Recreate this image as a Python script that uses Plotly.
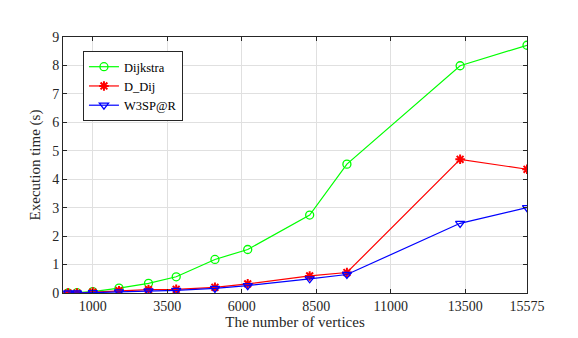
import plotly.graph_objects as go

vertices = [170, 470, 1000, 1880, 2870, 3800, 5100, 6200, 8280, 9530, 13330, 15575]
dijkstra = [0.0, 0.01, 0.05, 0.17, 0.34, 0.57, 1.18, 1.53, 2.74, 4.53, 7.99, 8.71]
d_dij = [0.0, 0.0, 0.03, 0.08, 0.12, 0.13, 0.20, 0.32, 0.60, 0.72, 4.70, 4.35]
w3sp = [0.0, 0.0, 0.01, 0.04, 0.07, 0.09, 0.16, 0.26, 0.50, 0.65, 2.45, 3.00]
x_ticks = [1000, 3500, 6000, 8500, 11000, 13500, 15575]
y_ticks = list(range(0, 10))

font_family = "Liberation Serif"

fig = go.Figure()
fig.add_trace(go.Scatter(
    x=vertices, y=dijkstra, name="Dijkstra", mode="lines+markers",
    line=dict(color="#00ff00", width=1.2),
    marker=dict(symbol="circle-open", size=8, color="#00ff00", line=dict(width=1.3)),
))
fig.add_trace(go.Scatter(
    x=vertices, y=d_dij, name="D_Dij", mode="lines+markers",
    line=dict(color="#ff0000", width=1.2),
    marker=dict(symbol="asterisk-open", size=8, color="#ff0000", line=dict(width=2, color="#ff0000")),
))
fig.add_trace(go.Scatter(
    x=vertices, y=w3sp, name="W3SP@R", mode="lines+markers",
    line=dict(color="#0000ff", width=1.2),
    marker=dict(symbol="triangle-down-open", size=8, color="#0000ff", line=dict(width=1.3)),
))

axis_common = dict(
    showline=True, linecolor="#262626", linewidth=1, mirror="ticks",
    ticks="inside", ticklen=4, tickcolor="#262626",
    showgrid=True, gridcolor="#e0e0e0", gridwidth=1, zeroline=False,
    tickfont=dict(family=font_family, size=14, color="#262626"),
)

fig.update_xaxes(
    range=[0, 15575], tickvals=x_ticks, ticktext=[str(v) for v in x_ticks],
    title=dict(text="The number of vertices", font=dict(family=font_family, size=15, color="#262626"), standoff=3),
    **axis_common,
)
fig.update_yaxes(
    range=[0, 9], tickvals=y_ticks,
    title=dict(text="Execution time (s)", font=dict(family=font_family, size=15, color="#262626"), standoff=7),
    **axis_common,
)

fig.update_layout(
    width=570, height=330,
    margin=dict(l=55, r=51, t=29, b=45, autoexpand=False),
    paper_bgcolor="white", plot_bgcolor="white",
    font=dict(family=font_family),
    showlegend=True,
    legend=dict(
        x=0.043, y=0.945, xanchor="left", yanchor="top",
        bgcolor="white", bordercolor="#262626", borderwidth=1,
        font=dict(family=font_family, size=12.5, color="#000000"),
        itemwidth=30, tracegroupgap=2,
    ),
)

fig.write_html("out.html")
